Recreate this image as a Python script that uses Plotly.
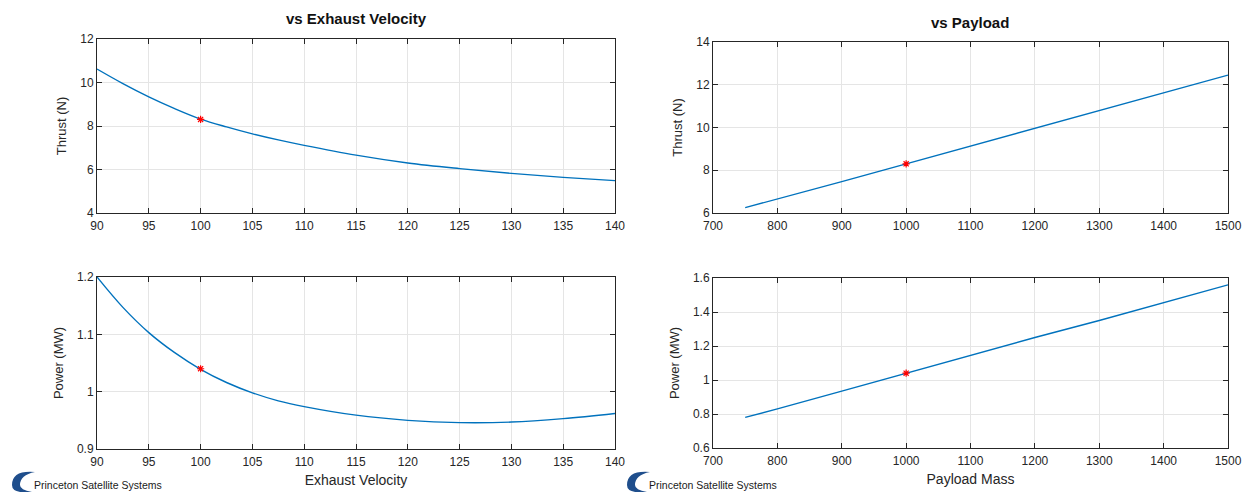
import plotly.graph_objects as go
from plotly.subplots import make_subplots

# ---- data ----
exhaust_velocity = [90, 92.5, 95, 97.5, 100, 102.5, 105, 107.5, 110, 115, 120, 125, 130, 135, 140]
thrust_vs_ve = [10.62, 9.95, 9.34, 8.80, 8.32, 7.96, 7.64, 7.36, 7.11, 6.66, 6.30, 6.04, 5.82, 5.64, 5.49]
power_vs_ve = [1.200, 1.147, 1.103, 1.068, 1.039, 1.016, 0.998, 0.984, 0.974, 0.959, 0.950, 0.946, 0.947, 0.953, 0.962]

payload_mass = [750, 800, 900, 1000, 1100, 1200, 1300, 1400, 1500]
thrust_vs_payload = [6.25, 6.65, 7.47, 8.30, 9.13, 9.97, 10.80, 11.63, 12.45]
power_vs_payload = [0.78, 0.83, 0.935, 1.04, 1.145, 1.25, 1.35, 1.455, 1.56]

nominal_ve = [100]
nominal_payload = [1000]
nominal_thrust = [8.3]
nominal_power = [1.04]

ve_ticks = [90, 95, 100, 105, 110, 115, 120, 125, 130, 135, 140]
payload_ticks = [700, 800, 900, 1000, 1100, 1200, 1300, 1400, 1500]

# page is 1251x500; the html body adds an 8px margin around the figure
OFF = 8
W, H = 1251 - 2 * OFF, 500 - 2 * OFF
BLUE = "#0072BD"
FONT = "Liberation Sans, Arial, sans-serif"
AXC = "#262626"

fig = make_subplots(rows=2, cols=2)

def px_x(p):
    return (p - OFF) / W

def px_y(p):
    return 1 - (p - OFF) / H

line = dict(color=BLUE, width=1.4)
mk = dict(color="red", size=6, symbol="asterisk-open", line=dict(color="red", width=1.2))

fig.add_trace(go.Scatter(x=exhaust_velocity, y=thrust_vs_ve, mode="lines", line=dict(line, shape="spline", smoothing=1), showlegend=False), row=1, col=1)
fig.add_trace(go.Scatter(x=nominal_ve, y=nominal_thrust, mode="markers", marker=mk, showlegend=False), row=1, col=1)
fig.add_trace(go.Scatter(x=payload_mass, y=thrust_vs_payload, mode="lines", line=line, showlegend=False), row=1, col=2)
fig.add_trace(go.Scatter(x=nominal_payload, y=nominal_thrust, mode="markers", marker=mk, showlegend=False), row=1, col=2)
fig.add_trace(go.Scatter(x=exhaust_velocity, y=power_vs_ve, mode="lines", line=dict(line, shape="spline", smoothing=1), showlegend=False), row=2, col=1)
fig.add_trace(go.Scatter(x=nominal_ve, y=nominal_power, mode="markers", marker=mk, showlegend=False), row=2, col=1)
fig.add_trace(go.Scatter(x=payload_mass, y=power_vs_payload, mode="lines", line=line, showlegend=False), row=2, col=2)
fig.add_trace(go.Scatter(x=nominal_payload, y=nominal_power, mode="markers", marker=mk, showlegend=False), row=2, col=2)

axis_common = dict(
    showline=True, linecolor=AXC, linewidth=1, mirror="ticks",
    ticks="inside", ticklen=5, tickcolor=AXC,
    showgrid=True, gridcolor="#e5e5e5", gridwidth=1,
    zeroline=False, tickfont=dict(family=FONT, size=12, color=AXC),
    automargin=False,
)

left_dom = [px_x(97), px_x(615)]
right_dom = [px_x(713), px_x(1228)]

fig.update_xaxes(axis_common)
fig.update_yaxes(axis_common)
fig.update_xaxes(ticklabelstandoff=2)

fig.update_xaxes(domain=left_dom, range=[90, 140], tickvals=ve_ticks, row=1, col=1)
fig.update_xaxes(domain=left_dom, range=[90, 140], tickvals=ve_ticks, row=2, col=1,
                 title=dict(text="Exhaust Velocity", font=dict(family=FONT, size=14, color=AXC), standoff=6))
fig.update_xaxes(domain=right_dom, range=[700, 1500], tickvals=payload_ticks, row=1, col=2)
fig.update_xaxes(domain=right_dom, range=[700, 1500], tickvals=payload_ticks, row=2, col=2,
                 title=dict(text="Payload Mass", font=dict(family=FONT, size=14, color=AXC), standoff=6))

ytitle = lambda t: dict(text=t, font=dict(family=FONT, size=13, color=AXC), standoff=10)
fig.update_yaxes(domain=[px_y(213), px_y(39)], range=[4, 12], tickvals=[4, 6, 8, 10, 12], row=1, col=1, title=ytitle("Thrust (N)"))
fig.update_yaxes(domain=[px_y(213), px_y(42)], range=[6, 14], tickvals=[6, 8, 10, 12, 14], row=1, col=2, title=ytitle("Thrust (N)"))
fig.update_yaxes(domain=[px_y(449), px_y(277)], range=[0.9, 1.2], tickvals=[0.9, 1.0, 1.1, 1.2],
                 ticktext=["0.9", "1", "1.1", "1.2"], row=2, col=1, title=ytitle("Power (MW)"))
fig.update_yaxes(domain=[px_y(448), px_y(278)], range=[0.6, 1.6], tickvals=[0.6, 0.8, 1.0, 1.2, 1.4, 1.6],
                 ticktext=["0.6", "0.8", "1", "1.2", "1.4", "1.6"], row=2, col=2, title=ytitle("Power (MW)"))

annotations = [
    dict(text="<b>vs Exhaust Velocity</b>", x=px_x(356), y=px_y(18), xref="paper", yref="paper",
         showarrow=False, font=dict(family=FONT, size=15, color="#111"), xanchor="center", yanchor="middle"),
    dict(text="<b>vs Payload</b>", x=px_x(970), y=px_y(22), xref="paper", yref="paper",
         showarrow=False, font=dict(family=FONT, size=15, color="#111"), xanchor="center", yanchor="middle"),
]
shapes = []
for lx in (12, 627):
    annotations.append(dict(text="Princeton Satellite Systems", x=px_x(lx + 20), y=px_y(485), xref="paper", yref="paper",
                            showarrow=False, font=dict(family=FONT, size=10.5, color="#1a1a1a"),
                            xanchor="left", yanchor="middle"))
    # crescent logo
    x0, x1 = px_x(lx), px_x(lx + 23)
    yt, yb, ymid = px_y(472), px_y(492), px_y(485)
    xi = px_x(lx + 8)
    path = (f"M {x1},{yt} Q {x0},{px_y(470)} {x0},{ymid} Q {x0},{px_y(494)} {px_x(lx+20)},{yb} "
            f"Q {xi},{px_y(490)} {xi},{ymid} Q {xi},{px_y(475)} {x1},{yt} Z")
    shapes.append(dict(type="path", path=path, xref="paper", yref="paper",
                       fillcolor="#1f4e8c", line=dict(width=0)))

fig.update_layout(
    width=W, height=H, margin=dict(l=0, r=0, t=0, b=0, autoexpand=False),
    paper_bgcolor="white", plot_bgcolor="white",
    annotations=annotations, shapes=shapes,
    font=dict(family=FONT, color=AXC),
)

fig.write_html("out.html")
